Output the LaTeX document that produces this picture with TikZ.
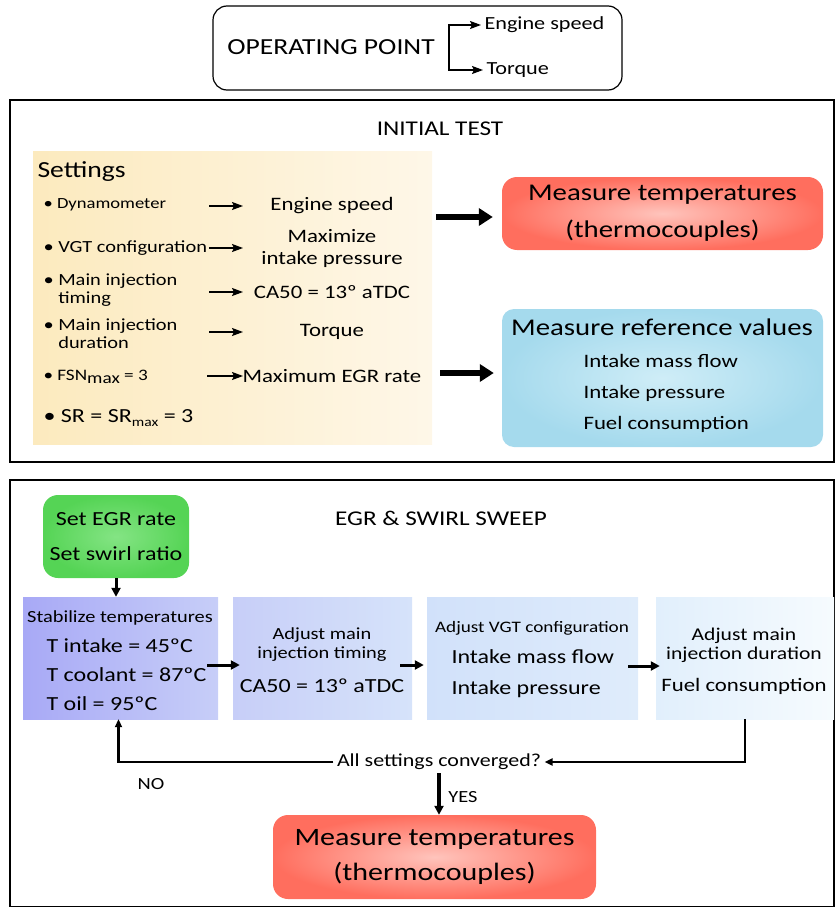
\documentclass[tikz,border=0pt]{standalone}
\usepackage{fontspec}
\setmainfont{Carlito}[FakeStretch=1.2]
\usetikzlibrary{positioning,arrows.meta}

\definecolor{setl}{HTML}{FCEABE}
\definecolor{setr}{HTML}{FEF7E8}
\definecolor{redout}{HTML}{FF6E5E}
\definecolor{redin}{HTML}{FFC4BC}
\definecolor{bluout}{HTML}{A5DAED}
\definecolor{bluin}{HTML}{CFEDF7}
\definecolor{grnout}{HTML}{55D455}
\definecolor{grnin}{HTML}{84E484}
\definecolor{stepa}{HTML}{A8A9F6}
\definecolor{stepb}{HTML}{C7CEF8}
\definecolor{stepc}{HTML}{D6E3FA}
\definecolor{stepd}{HTML}{D1E1FA}
\definecolor{stepe}{HTML}{DFECFB}
\definecolor{stepf}{HTML}{E1EFFC}
\definecolor{stepg}{HTML}{F6FBFE}

\newcommand{\setfs}[2]{\fontsize{#1}{#2}\selectfont}

\begin{document}
\begin{tikzpicture}[x=1pt,y=-1pt,
    frame/.style={draw,line width=1.2pt,inner sep=0pt},
    measbox/.style={rounded corners=15pt,inner sep=0pt,inner color=redin,outer color=redout,align=center},
    flowbox/.style={inner sep=0pt,minimum height=122pt},
    sarrow/.style={-{Stealth[length=11pt,width=8pt,inset=2pt]},line width=1.4pt},
    bigarrow/.style={-{Triangle[length=14pt,width=17pt]},line width=6pt},
    midarrow/.style={-{Triangle[length=9pt,width=9pt]},line width=3pt},
    fbarrow/.style={-{Triangle[length=8pt,width=7pt]},line width=2.2pt}]
  \useasboundingbox (0,0) rectangle (838,907);

  % operating point
  \node[frame,rounded corners=14pt,minimum width=409pt,minimum height=84pt] (opbox) at (417.5,48) {};
  \node[font=\setfs{23}{26}] (optxt) at (331,47) {OPERATING POINT};
  \node[anchor=west,font=\setfs{18.5}{21}] (opspeed) at (481,25) {Engine speed};
  \node[anchor=west,font=\setfs{18.5}{21}] (optorque) at (483,70) {Torque};
  \coordinate (brk) at (449,47);
  \draw[sarrow] (brk) |- (opspeed.west);
  \draw[sarrow] (brk) |- (optorque.west);

  % initial test
  \node[frame,minimum width=824pt,minimum height=362pt] (initframe) at (422,281) {};
  \node[font=\setfs{21}{24}] (inittitle) at (440,129) {INITIAL TEST};
  \node[inner sep=0pt,minimum width=399pt,minimum height=293pt,left color=setl,right color=setr] (setpanel) at (232.5,297.5) {};
  \node[anchor=west,font=\setfs{23}{26}] (settitle) at (34,172) {Settings};

  \node[anchor=west,font=\setfs{15.5}{18}] (dyn) at (40,205) {• Dynamometer};
  \node[anchor=west,font=\setfs{17}{19}] (vgt) at (40,248) {• VGT configuration};
  \node[anchor=west,align=left,font=\setfs{17}{18}] (mit) at (40,290) {• Main injection\\\phantom{• }timing};
  \node[anchor=west,align=left,font=\setfs{17}{18}] (mid) at (40,334) {• Main injection\\\phantom{• }duration};
  \node[anchor=west,font=\setfs{16}{18}] (fsn) at (40,377) {• FSN\raisebox{-0.35ex}{max} = 3};
  \node[anchor=west,font=\setfs{20}{22}] (sr) at (40,418) {• SR = SR\raisebox{-0.4ex}{\setfs{13}{14}max} = 3};

  \node[font=\setfs{19}{22}] (rspeed) at (332,206) {Engine speed};
  \node[align=center,font=\setfs{19}{22}] (rpress) at (332,248) {Maximize\\intake pressure};
  \node[font=\setfs{19}{22}] (rca) at (332,292) {CA50 = 13º aTDC};
  \node[font=\setfs{19}{22}] (rtorque) at (332,332) {Torque};
  \node[font=\setfs{19}{22}] (regr) at (332,376) {Maximum EGR rate};

  \draw[sarrow] (rspeed.west -| 209,0) -- (rspeed.west -| 243,0);
  \draw[sarrow] (rpress.west -| 209,0) -- (rpress.west -| 243,0);
  \draw[sarrow] (rca.west -| 209,0) -- (rca.west -| 243,0);
  \draw[sarrow] (rtorque.west -| 209,0) -- (rtorque.west -| 243,0);
  \draw[sarrow] (regr.west -| 207,0) -- (regr.west -| 243,0);

  \node[measbox,minimum width=321pt,minimum height=73pt,font=\setfs{24}{37}] (tempbox) at (662.5,213.5) {Measure temperatures\\(thermocouples)};
  \node[rounded corners=12pt,inner sep=0pt,minimum width=321pt,minimum height=138pt,inner color=bluin,outer color=bluout] (refbox) at (662.5,378) {};
  \node[font=\setfs{24}{27}] (reftitle) at (662,327) {Measure reference values};
  \node[anchor=west,align=left,font=\setfs{19}{31}] (reflist) at (580,393) {Intake mass flow\\Intake pressure\\Fuel consumption};

  \draw[bigarrow,shorten <=4pt,shorten >=9pt] (setpanel.east |- 0,217) -- (tempbox.west |- 0,217);
  \draw[bigarrow,shorten <=8pt,shorten >=8pt] (setpanel.east |- 0,373) -- (refbox.west |- 0,373);

  % EGR and swirl sweep
  \node[frame,minimum width=824pt,minimum height=427pt] (sweepframe) at (422,693.5) {};
  \node[font=\setfs{21}{24}] (sweeptitle) at (441,518) {EGR \& SWIRL SWEEP};
  \node[rounded corners=15pt,inner sep=0pt,minimum width=146pt,minimum height=83pt,inner color=grnin,outer color=grnout,align=center,font=\setfs{20}{35}] (gbox) at (116,536.5) {Set EGR rate\\Set swirl ratio};

  \node[flowbox,minimum width=195pt,left color=stepa,right color=stepb] (stab) at (120.5,658) {};
  \node[flowbox,minimum width=179pt,left color=stepb,right color=stepc] (timing) at (322.5,658) {};
  \node[flowbox,minimum width=211pt,left color=stepd,right color=stepe] (vgtbox) at (532.5,658) {};
  \node[flowbox,minimum width=178pt,left color=stepf,right color=stepg] (duration) at (745,658) {};

  \node[font=\setfs{17}{19}] (stabtitle) at (120,618) {Stabilize temperatures};
  \node[anchor=west,align=left,font=\setfs{20}{29}] (stablist) at (43,675) {T intake = 45ºC\\T coolant = 87ºC\\T oil = 95ºC};
  \node[align=center,font=\setfs{17}{19}] (timtitle) at (322,645) {Adjust main\\injection timing};
  \node[font=\setfs{20}{22}] (timca) at (322,686) {CA50 = 13º aTDC};
  \node[font=\setfs{16}{18}] (vgttitle) at (532,628) {Adjust VGT configuration};
  \node[anchor=west,align=left,font=\setfs{20}{31}] (vgtlist) at (448,674) {Intake mass flow\\Intake pressure};
  \node[align=center,font=\setfs{18}{19}] (durtitle) at (744,645) {Adjust main\\injection duration};
  \node[font=\setfs{19}{22}] (durfuel) at (744,686) {Fuel consumption};

  \draw[midarrow] (gbox.south) -- (gbox.south |- stab.north);
  \draw[midarrow] ([shift={(-11,7)}]stab.east) -- ([shift={(7,7)}]timing.west);
  \draw[midarrow] ([shift={(-12,7)}]timing.east) -- ([shift={(-3,7)}]vgtbox.west);
  \draw[midarrow] ([shift={(-10,8)}]vgtbox.east) -- ([shift={(4,8)}]duration.west);

  \node[font=\setfs{18.3}{21}] (conv) at (439,762) {All settings converged?};
  \draw[fbarrow] (duration.south) |- (conv.east);
  \draw[fbarrow] (conv.west) -| ([xshift=-2pt]stab.south);
  \node[font=\setfs{17}{19}] (nolabel) at (151,784) {NO};

  \node[measbox,minimum width=323pt,minimum height=84pt,font=\setfs{25}{35}] (finalbox) at (434.5,857) {Measure temperatures\\(thermocouples)};
  \draw[midarrow,line width=3.5pt] (conv.south) -- (conv.south |- finalbox.north);
  \node[font=\setfs{17}{19}] (yeslabel) at (463,797) {YES};
\end{tikzpicture}
\end{document}
